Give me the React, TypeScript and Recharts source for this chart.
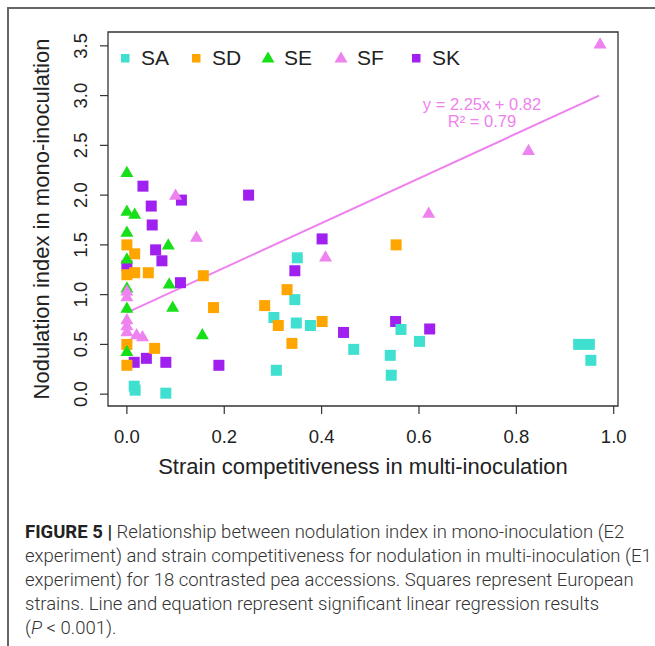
import React from 'react';
import { ScatterChart, Scatter, XAxis, YAxis, ReferenceArea, Legend } from 'recharts';

const FONT = '"Liberation Sans", Arial, Helvetica, sans-serif';

// SA (turquoise squares)
const saX = [0.35, 0.345, 0.302, 0.348, 0.377, 0.466, 0.307, 0.015, 0.017, 0.08, 0.563, 0.601, 0.541, 0.543, 0.928, 0.95, 0.953];
const saY = [1.37, 0.95, 0.77, 0.715, 0.69, 0.45, 0.24, 0.08, 0.04, 0.01, 0.65, 0.53, 0.39, 0.19, 0.5, 0.5, 0.34];
// SD (orange squares)
const sdX = [0, 0.016, 0, 0.016, 0.044, 0.157, 0.178, 0.283, 0.329, 0.311, 0.401, 0.339, 0.553, 0, 0.057, 0];
const sdY = [1.5, 1.41, 1.2, 1.22, 1.22, 1.19, 0.87, 0.89, 1.05, 0.69, 0.73, 0.51, 1.5, 0.5, 0.46, 0.29];
// SE (green triangles)
const seX = [0, 0, 0.016, 0, 0.085, 0, 0.087, 0, 0, 0.094, 0.155, 0];
const seY = [2.22, 1.83, 1.8, 1.62, 1.49, 1.35, 1.1, 1.06, 0.855, 0.865, 0.59, 0.42];
// SF (violet triangles)
const sfX = [0.972, 0.825, 0.1, 0.143, 0.62, 0.408, 0, 0, 0, 0, 0.02, 0.032, 0];
const sfY = [3.51, 2.44, 1.99, 1.57, 1.81, 1.37, 1.03, 0.97, 0.74, 0.62, 0.59, 0.57, 0.68];
// SK (purple squares)
const skX = [0.033, 0.112, 0.05, 0.052, 0.059, 0.072, 0, 0.11, 0.25, 0.401, 0.345, 0.445, 0.552, 0.622, 0.015, 0.04, 0.08, 0.189];
const skY = [2.09, 1.95, 1.89, 1.7, 1.45, 1.34, 1.29, 1.12, 2.0, 1.56, 1.24, 0.62, 0.73, 0.655, 0.32, 0.36, 0.32, 0.29];

// regression line end points
const regX = [0, 0.97];
const regY = [0.82, 3.0];

const xTicks = [0, 0.2, 0.4, 0.6, 0.8, 1.0];
const yTicks = [0, 0.5, 1.0, 1.5, 2.0, 2.5, 3.0, 3.5];
const X_DOMAIN: [number, number] = [-0.0388, 1.0088];
const Y_DOMAIN: [number, number] = [-0.119, 3.639];

const COLORS = {
  SA: '#40E0D0',
  SD: '#FFA500',
  SE: '#18E018',
  SF: '#EE82EE',
  SK: '#A020F0',
};

const legendItems = [
  { name: 'SA', color: COLORS.SA, shape: 'square', pos: 125 },
  { name: 'SD', color: COLORS.SD, shape: 'square', pos: 196 },
  { name: 'SE', color: COLORS.SE, shape: 'triangle', pos: 268 },
  { name: 'SF', color: COLORS.SF, shape: 'triangle', pos: 341 },
  { name: 'SK', color: COLORS.SK, shape: 'square', pos: 416 },
];

const zip = (xs: number[], ys: number[]) => xs.map((x, i) => ({ x, y: ys[i] }));

const squareShape = (color: string, s: number) => (props: any) => {
  const { cx, cy } = props;
  if (cx == null || cy == null) return <g />;
  return <rect x={cx - s / 2} y={cy - s / 2} width={s} height={s} fill={color} />;
};

const triangleShape = (color: string, s: number) => (props: any) => {
  const { cx, cy } = props;
  if (cx == null || cy == null) return <g />;
  const h = s * 0.866;
  const pts = `${cx},${cy - (h * 2) / 3} ${cx - s / 2},${cy + h / 3} ${cx + s / 2},${cy + h / 3}`;
  return <polygon points={pts} fill={color} />;
};

const noShape = () => <g />;

const XTick = (props: any) => {
  const { x, y, payload } = props;
  return (
    <text x={x} y={y + 27} textAnchor="middle" fontFamily={FONT} fontSize={18.5} fill="#222">
      {Number(payload.value).toFixed(1)}
    </text>
  );
};

const YTick = (props: any) => {
  const { x, y, payload } = props;
  const bx = x - 11;
  return (
    <text
      x={bx}
      y={y}
      transform={`rotate(-90, ${bx}, ${y})`}
      textAnchor="middle"
      fontFamily={FONT}
      fontSize={18.5}
      fill="#222"
    >
      {Number(payload.value).toFixed(1)}
    </text>
  );
};

const XTitle = (props: any) => {
  const vb = props.viewBox || { x: 108, y: 406, width: 510, height: 240 };
  return (
    <text
      x={vb.x + vb.width / 2}
      y={vb.y + 68}
      textAnchor="middle"
      fontFamily={FONT}
      fontSize={22}
      fill="#222"
    >
      Strain competitiveness in multi-inoculation
    </text>
  );
};

const YTitle = (props: any) => {
  const vb = props.viewBox || { x: 0, y: 32, width: 108, height: 374 };
  const cx = 49;
  const cy = vb.y + vb.height / 2;
  return (
    <text
      x={cx}
      y={cy}
      transform={`rotate(-90, ${cx}, ${cy})`}
      textAnchor="middle"
      fontFamily={FONT}
      fontSize={22}
      fill="#222"
    >
      Nodulation index in mono-inoculation
    </text>
  );
};

const LegendContent = () => (
  <div style={{ position: 'relative', width: 655, height: 0 }}>
    {legendItems.map((it) => (
      <div key={it.name}>
        <svg
          width={16}
          height={16}
          style={{ position: 'absolute', left: it.pos - 8, top: 58 - 8 }}
        >
          {it.shape === 'square' ? (
            <rect x={4} y={4} width={8.5} height={8.5} fill={it.color} />
          ) : (
            <polygon points="8,1.5 1.5,12.5 14.5,12.5" fill={it.color} />
          )}
        </svg>
        <div
          style={{
            position: 'absolute',
            left: it.pos + 16,
            top: 58 - 13,
            fontFamily: FONT,
            fontSize: 21,
            lineHeight: '26px',
            color: '#222',
            whiteSpace: 'nowrap',
          }}
        >
          {it.name}
        </div>
      </div>
    ))}
  </div>
);

const captionStyle: React.CSSProperties = {
  position: 'absolute',
  left: 25,
  top: 520,
  fontFamily: 'Roboto, "Noto Sans", sans-serif',
  fontWeight: 300,
  fontSize: 18.5,
  lineHeight: '24px',
  color: '#333',
  whiteSpace: 'nowrap',
};

export default function App() {
  return (
    <div style={{ position: 'absolute', left: 0, top: 0, width: 655, height: 646, background: '#fff', overflow: 'hidden' }}>
      <div
        style={{
          position: 'absolute',
          left: 7,
          top: 7,
          width: 660,
          height: 660,
          borderLeft: '2px solid #666',
          borderTop: '2px solid #666',
        }}
      />
      <div style={{ position: 'absolute', left: 0, top: 0 }}>
        <ScatterChart width={655} height={646} margin={{ top: 32, right: 37, bottom: 0, left: 0 }}>
          <XAxis
            type="number"
            dataKey="x"
            domain={X_DOMAIN}
            ticks={xTicks}
            allowDataOverflow
            axisLine={false}
            tickLine={{ stroke: '#333', strokeWidth: 1.2 }}
            tickSize={8}
            height={240}
            tick={<XTick />}
            label={<XTitle />}
          />
          <YAxis
            type="number"
            dataKey="y"
            domain={Y_DOMAIN}
            ticks={yTicks}
            allowDataOverflow
            axisLine={false}
            tickLine={{ stroke: '#333', strokeWidth: 1.2 }}
            tickSize={8}
            width={108}
            tick={<YTick />}
            label={<YTitle />}
          />
          <ReferenceArea
            x1={X_DOMAIN[0]}
            x2={X_DOMAIN[1]}
            y1={Y_DOMAIN[0]}
            y2={Y_DOMAIN[1]}
            fill="none"
            fillOpacity={0}
            stroke="#333"
            strokeWidth={1.3}
            ifOverflow="visible"
          />
          <Legend
            layout="horizontal"
            verticalAlign="middle"
            align="center"
            content={<LegendContent />}
            wrapperStyle={{ position: 'absolute', left: 0, top: 0, width: 655, height: 0 }}
          />
          <Scatter name="regression" data={zip(regX, regY)} legendType="none" isAnimationActive={false}
            line={{ stroke: COLORS.SF, strokeWidth: 2 }} shape={noShape} />
          <Scatter name="SK" data={zip(skX, skY)} isAnimationActive={false} shape={squareShape(COLORS.SK, 11)} />
          <Scatter name="SA" data={zip(saX, saY)} isAnimationActive={false} shape={squareShape(COLORS.SA, 11)} />
          <Scatter name="SD" data={zip(sdX, sdY)} isAnimationActive={false} shape={squareShape(COLORS.SD, 11)} />
          <Scatter name="SE" data={zip(seX, seY)} isAnimationActive={false} shape={triangleShape(COLORS.SE, 13)} />
          <Scatter name="SF" data={zip(sfX, sfY)} isAnimationActive={false} shape={triangleShape(COLORS.SF, 13)} />
        </ScatterChart>
      </div>
      <div
        style={{
          position: 'absolute',
          left: 482,
          top: 96,
          transform: 'translateX(-50%)',
          fontFamily: FONT,
          fontSize: 16.5,
          lineHeight: '17px',
          color: COLORS.SF,
          textAlign: 'center',
          whiteSpace: 'nowrap',
        }}
      >
        <div>y = 2.25x + 0.82</div>
        <div>R² = 0.79</div>
      </div>
      <div style={captionStyle}>
        <div>
          <span style={{ fontWeight: 700, color: '#222' }}>FIGURE 5 |</span> Relationship between nodulation index in mono-inoculation (E2
        </div>
        <div>experiment) and strain competitiveness for nodulation in multi-inoculation (E1</div>
        <div>experiment) for 18 contrasted pea accessions. Squares represent European</div>
        <div>strains. Line and equation represent significant linear regression results</div>
        <div>
          (<i>P</i> &lt; 0.001).
        </div>
      </div>
    </div>
  );
}
